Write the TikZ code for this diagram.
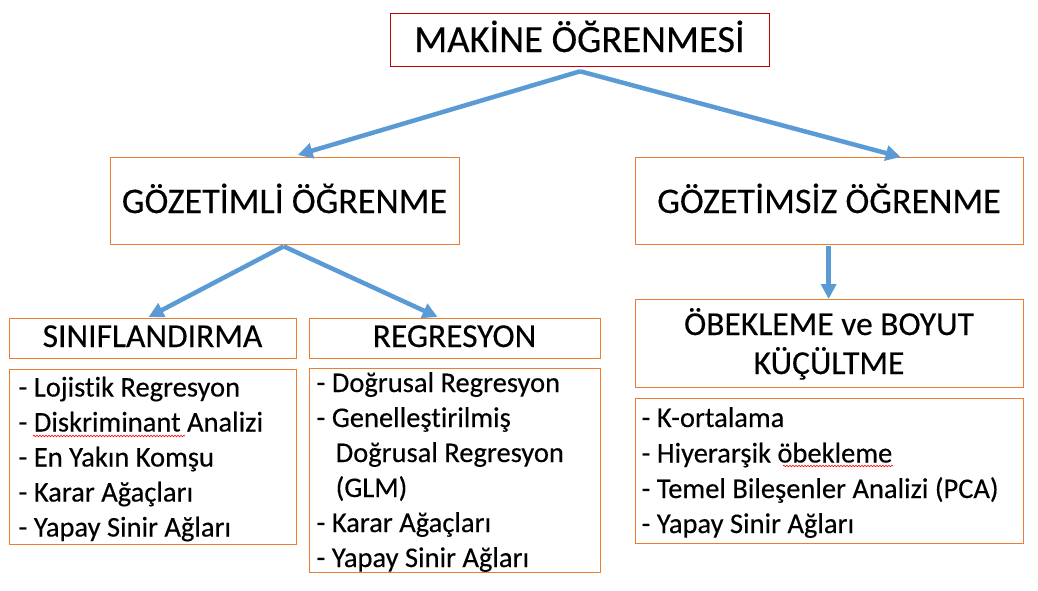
\documentclass[tikz,border=0pt]{standalone}
\usepackage{fontspec}
\setmainfont{Carlito}[RawFeature={-liga;-dlig;-clig}]
\newfontfamily\heavy{Carlito}[RawFeature={-liga;-dlig;-clig},FakeBold=0.3]
\usetikzlibrary{arrows.meta,calc,decorations.pathmorphing}
\definecolor{orng}{HTML}{ED7D31}
\definecolor{redb}{HTML}{C00000}
\definecolor{blu}{HTML}{5B9BD5}
\begin{document}
\begin{tikzpicture}[x=1pt,y=-1pt,
  box/.style={draw=orng,line width=1.3pt,inner sep=0pt,anchor=north west},
  topbox/.style={box,draw=redb},
  arr/.style={draw=blu,line width=4.5pt,-{Triangle[length=15pt,width=15pt]}},
  ttl/.style={anchor=base,inner sep=0pt,font=\heavy\fontsize{36pt}{43pt}\selectfont},
  sub/.style={anchor=base,inner sep=0pt,font=\heavy\fontsize{33.5pt}{40pt}\selectfont},
  itm/.style={anchor=base west,inner sep=0pt,font=\heavy\fontsize{28.5pt}{34pt}\selectfont},
  wavy/.style={draw=red,line width=0.6pt,decorate,decoration={snake,amplitude=0.8pt,segment length=3pt}}
]
\useasboundingbox (0,0) rectangle (1038,590);

% boxes
\node[topbox,minimum width=379pt,minimum height=53pt] (top) at (390,13) {};
\node[box,minimum width=349pt,minimum height=87pt] (gl) at (110,157) {};
\node[box,minimum width=388pt,minimum height=87pt] (gu) at (635,157) {};
\node[box,minimum width=287pt,minimum height=40pt] (sin) at (9,318) {};
\node[box,minimum width=291pt,minimum height=40pt] (reg) at (309,318) {};
\node[box,minimum width=287pt,minimum height=175pt] (sinL) at (9,369) {};
\node[box,minimum width=291pt,minimum height=204pt] (regL) at (309,368) {};
\node[box,minimum width=388pt,minimum height=88pt] (ob) at (635,299) {};
\node[box,minimum width=388pt,minimum height=145pt] (obL) at (635,398) {};

% titles
\node[ttl,font=\heavy\fontsize{38.5pt}{46pt}\selectfont] (topT) at (579.5,52) {MAKİNE ÖĞRENMESİ};
\node[ttl] (glT) at (284.5,213) {GÖZETİMLİ ÖĞRENME};
\node[ttl] (guT) at (829,213) {GÖZETİMSİZ ÖĞRENME};
\node[sub] (sinT) at (152.5,347) {SINIFLANDIRMA};
\node[sub] (regT) at (454.5,347) {REGRESYON};
\node[sub] (obT1) at (829,335) {ÖBEKLEME ve BOYUT};
\node[sub] (obT2) at (829,374) {KÜÇÜLTME};

% left list
\node[itm] (s1) at (18.5,396.5) {- Lojistik Regresyon};
\node[itm] (s2) at (18.5,431.5) {- Diskriminant Analizi};
\node[itm] (s3) at (18.5,466.5) {- En Yakın Komşu};
\node[itm] (s4) at (18.5,501.5) {- Karar Ağaçları};
\node[itm] (s5) at (18.5,536.5) {- Yapay Sinir Ağları};

% regression list
\node[itm] (r1) at (316.5,392) {- Doğrusal Regresyon};
\node[itm] (r2) at (316.5,427) {- Genelleştirilmiş};
\node[itm] (r3) at (335.5,462) {Doğrusal Regresyon};
\node[itm] (r4) at (335.5,497) {(GLM)};
\node[itm] (r5) at (316.5,532) {- Karar Ağaçları};
\node[itm] (r6) at (316.5,567) {- Yapay Sinir Ağları};

% right list
\node[itm] (o1) at (641.5,427) {- K-ortalama};
\node[itm] (o2) at (641.5,462.5) {- Hiyerarşik öbekleme};
\node[itm] (o3) at (641.5,498) {- Temel Bileşenler Analizi (PCA)};
\node[itm] (o4) at (641.5,533) {- Yapay Sinir Ağları};

% spell-check underlines
\draw[wavy] (33,436) -- (185,436);
\draw[wavy] (783,466) -- (893,466);

% arrows
\draw[arr] ([yshift=-4pt]top.south) -- ([xshift=12.5pt,yshift=2pt]gl.north);
\draw[arr] ([yshift=-4pt]top.south) -- ([xshift=71pt,yshift=0pt]gu.north);
\draw[arr] ([xshift=-1.5pt,yshift=-1pt]gl.south) -- ([xshift=-4.5pt,yshift=1pt]sin.north);
\draw[arr] ([xshift=-1.5pt,yshift=-1pt]gl.south) -- ([xshift=-17.5pt,yshift=1pt]reg.north);
\draw[arr] ([xshift=-1pt,yshift=-1pt]gu.south) -- ([xshift=-1pt]ob.north);
\end{tikzpicture}
\end{document}
